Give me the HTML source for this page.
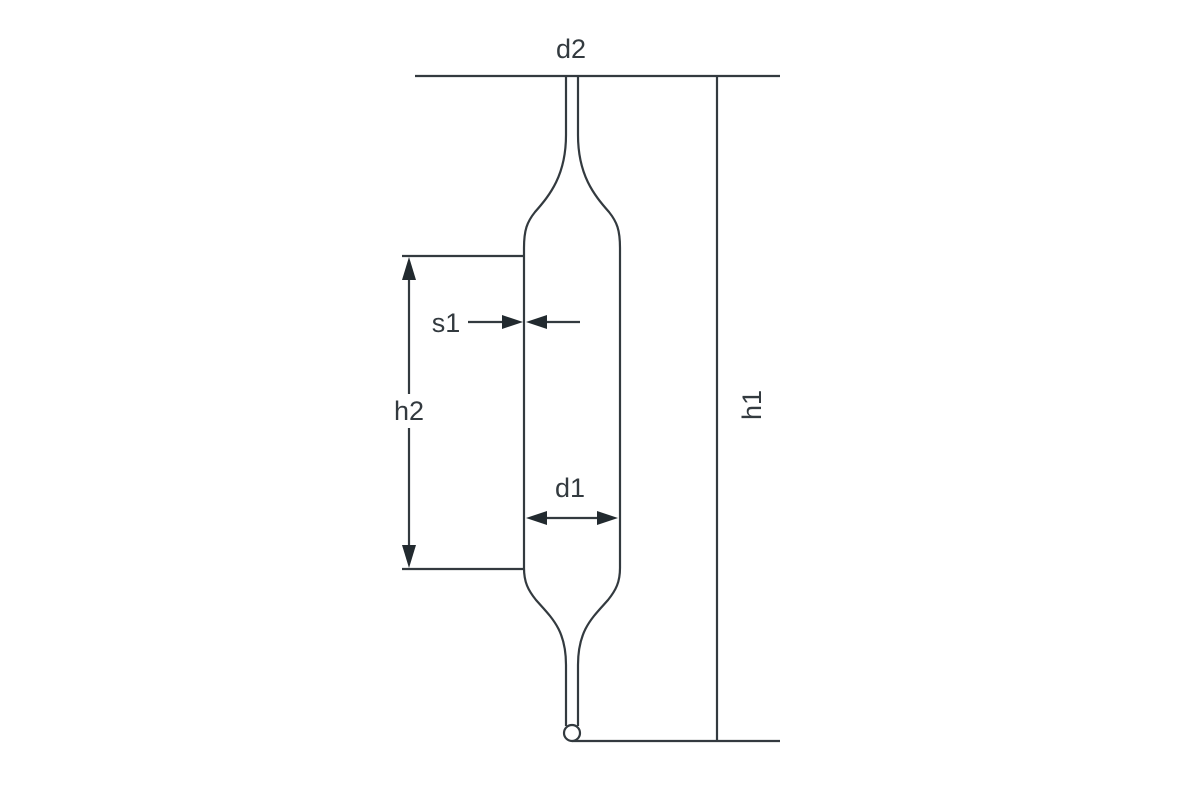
<!DOCTYPE html>
<html><head><meta charset="utf-8"><style>html,body{margin:0;padding:0;background:#fff}svg{display:block}</style></head><body>
<svg width="1200" height="798" viewBox="0 0 1200 798" xmlns="http://www.w3.org/2000/svg">
<g stroke="#333a3f" stroke-width="2.2" fill="none" stroke-linecap="butt">
<line x1="415" y1="76" x2="780" y2="76"/>
<line x1="572" y1="741" x2="780" y2="741"/>
<line x1="717" y1="76" x2="717" y2="741"/>
<path d="M566,76 L566,135 C566,175 550,195 535,212 C527,222 524,230 524,248 L524,568 C524,582 528,590 536,600 C552,618 566,630 566,665 L566,726"/>
<path d="M578,76 L578,135 C578,175 594,195 609,212 C617,222 620,230 620,248 L620,568 C620,582 616,590 608,600 C592,618 578,630 578,665 L578,726"/>
<circle cx="572" cy="733" r="8" fill="#fff"/>
<line x1="402" y1="256" x2="524" y2="256"/>
<line x1="402" y1="569" x2="524" y2="569"/>
<line x1="409" y1="270" x2="409" y2="555"/>
<line x1="468" y1="322" x2="508" y2="322"/>
<line x1="540" y1="322" x2="580" y2="322"/>
<line x1="538" y1="518" x2="606" y2="518"/>
</g>
<rect x="388" y="394" width="42" height="34" fill="#fff"/>
<g fill="#222a2f">
<polygon points="409,257 402,280 416,280"/>
<polygon points="409,568 402,545 416,545"/>
<polygon points="523,322 502,315 502,329"/>
<polygon points="526,322 547,315 547,329"/>
<polygon points="526,518 547,511 547,525"/>
<polygon points="618,518 597,511 597,525"/>
</g>
<g font-family="Liberation Sans, sans-serif" font-size="27" fill="#333a3f" text-anchor="middle">
<text x="571" y="58">d2</text>
<text x="446" y="332">s1</text>
<text x="409" y="420">h2</text>
<text x="570" y="497">d1</text>
<text x="0" y="0" transform="translate(761,405) rotate(-90)">h1</text>
</g>
</svg>
</body></html>
